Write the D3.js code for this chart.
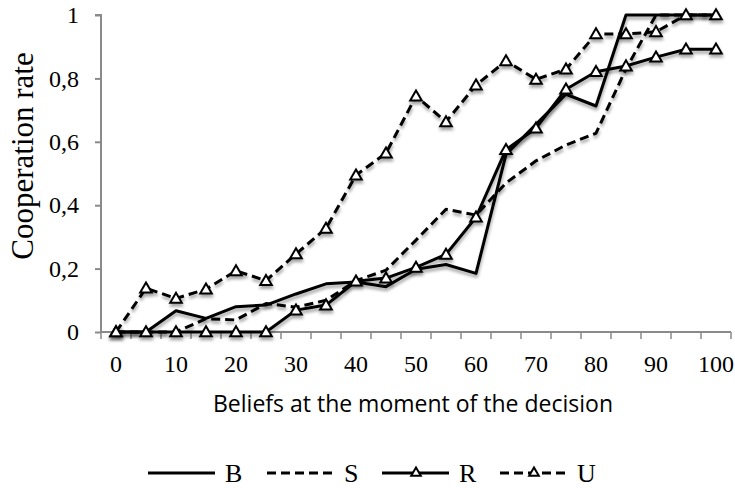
<!DOCTYPE html>
<html><head><meta charset="utf-8">
<script src="https://cdn.jsdelivr.net/npm/d3@7"></script>
<style>body{margin:0;background:#fff}svg{display:block}</style>
</head><body>
<svg id="c" width="735" height="488"></svg>
<script>
const categories = [0,5,10,15,20,25,30,35,40,45,50,55,60,65,70,75,80,85,90,95,100];
const seriesB = [0,0,0.067,0.043,0.08,0.085,0.12,0.152,0.158,0.143,0.198,0.213,0.185,0.56,0.655,0.75,0.713,1,1,1,1];
const seriesS = [0,0,0,0.042,0.038,0.09,0.078,0.10,0.162,0.195,0.29,0.387,0.369,0.47,0.54,0.59,0.627,0.83,1,1,1];
const seriesR = [0,0,0,0,0,0,0.069,0.085,0.16,0.17,0.204,0.245,0.362,0.575,0.643,0.766,0.821,0.839,0.867,0.892,0.892];
const seriesU = [0,0.138,0.106,0.135,0.193,0.162,0.246,0.327,0.495,0.564,0.744,0.663,0.779,0.855,0.797,0.829,0.94,0.94,0.947,1,1];
const yTicks = [0,0.2,0.4,0.6,0.8,1];
const xLabelCats = [0,10,20,30,40,50,60,70,80,90,100];
const seriesNames = ["B","S","R","U"];

const SERIF = "Liberation Serif";
const SANS = "Open Sans";
const svg = d3.select("#c");
const L=101, R=731, T=15, B=332;
const x = d3.scaleBand().domain(categories).range([L,R]);
const y = d3.scaleLinear().domain([0,1]).range([B,T]);
const axisColor = "#8a8a8a";

const defs = svg.append("defs");
const f = defs.append("filter").attr("id","sh").attr("x","-20%").attr("y","-20%").attr("width","140%").attr("height","140%");
f.append("feDropShadow").attr("dx",0.5).attr("dy",3).attr("stdDeviation",1.6).attr("flood-color","#000").attr("flood-opacity",0.35);

// Y axis
const yAxis = d3.axisLeft(y).tickValues(yTicks).tickSize(6).tickPadding(16)
  .tickFormat(d => d3.format(".1f")(d).replace(".",",").replace(/^0,0$/,"0").replace(/^1,0$/,"1"));
const gy = svg.append("g").attr("transform",`translate(${L},0)`).call(yAxis);
gy.select(".domain").attr("stroke",axisColor).attr("stroke-width",2).attr("d",`M-6,${T}H0V${B}`);
gy.selectAll(".tick line").attr("stroke",axisColor).attr("stroke-width",2);
gy.selectAll(".tick text").style("font-family",SERIF).style("font-size","24px").attr("fill","#000");

// X axis
const gx = svg.append("g").attr("transform",`translate(0,${B})`);
gx.append("line").attr("x1",L).attr("x2",R).attr("y1",0).attr("y2",0).attr("stroke",axisColor).attr("stroke-width",2);
const bounds = categories.map(c=>x(c)).concat([x(categories[categories.length-1])+x.bandwidth()]);
gx.selectAll("line.t").data(bounds).join("line").attr("class","t")
  .attr("x1",d=>d).attr("x2",d=>d).attr("y1",0).attr("y2",7).attr("stroke",axisColor).attr("stroke-width",1.5);
gx.selectAll("text").data(xLabelCats).join("text")
  .attr("x",d=>x(d)+x.bandwidth()/2).attr("y",40).attr("text-anchor","middle")
  .style("font-family",SERIF).style("font-size","24px").text(d=>d);

// Axis titles
svg.append("text").attr("transform","translate(33,156) rotate(-90)").attr("text-anchor","middle")
  .style("font-family",SERIF).style("font-size","31px").text("Cooperation rate");
svg.append("text").attr("x",413).attr("y",412).attr("text-anchor","middle")
  .style("font-family",SANS).style("font-size","23px").text("Beliefs at the moment of the decision");

const line = d3.line().x((d,i)=>x(categories[i])+x.bandwidth()/2).y(d=>y(d));
const tri = d3.symbol(d3.symbolTriangle).size(58);
const specs = [
  {name:"B", data:seriesB, dash:null, marker:false},
  {name:"S", data:seriesS, dash:"9,5", marker:false},
  {name:"R", data:seriesR, dash:null, marker:true},
  {name:"U", data:seriesU, dash:"9,5", marker:true}
];
specs.forEach(s=>{
  const g = svg.append("g").attr("filter","url(#sh)");
  g.append("path").attr("d",line(s.data)).attr("fill","none").attr("stroke","#000")
    .attr("stroke-width",3).attr("stroke-dasharray",s.dash).attr("stroke-linejoin","round");
  if(s.marker){
    g.selectAll("path.m").data(s.data).join("path").attr("class","m")
      .attr("transform",(d,i)=>`translate(${x(categories[i])+x.bandwidth()/2},${y(d)+1})`)
      .attr("d",tri).attr("fill","#fff").attr("stroke","#000").attr("stroke-width",2);
  }
});

// Legend
const legX = [148,267,382,500];
const ly = 473;
specs.forEach((s,i)=>{
  const g = svg.append("g");
  g.append("line").attr("x1",legX[i]).attr("x2",legX[i]+67).attr("y1",ly).attr("y2",ly)
    .attr("stroke","#000").attr("stroke-width",3).attr("stroke-dasharray",s.dash);
  if(s.marker){
    g.append("path").attr("transform",`translate(${legX[i]+34},${ly})`).attr("d",d3.symbol(d3.symbolTriangle).size(40))
      .attr("fill","#fff").attr("stroke","#000").attr("stroke-width",2);
  }
  g.append("text").attr("x",legX[i]+77).attr("y",ly+9)
    .style("font-family",SERIF).style("font-size","26px").text(seriesNames[i]);
});
</script>
</body></html>
